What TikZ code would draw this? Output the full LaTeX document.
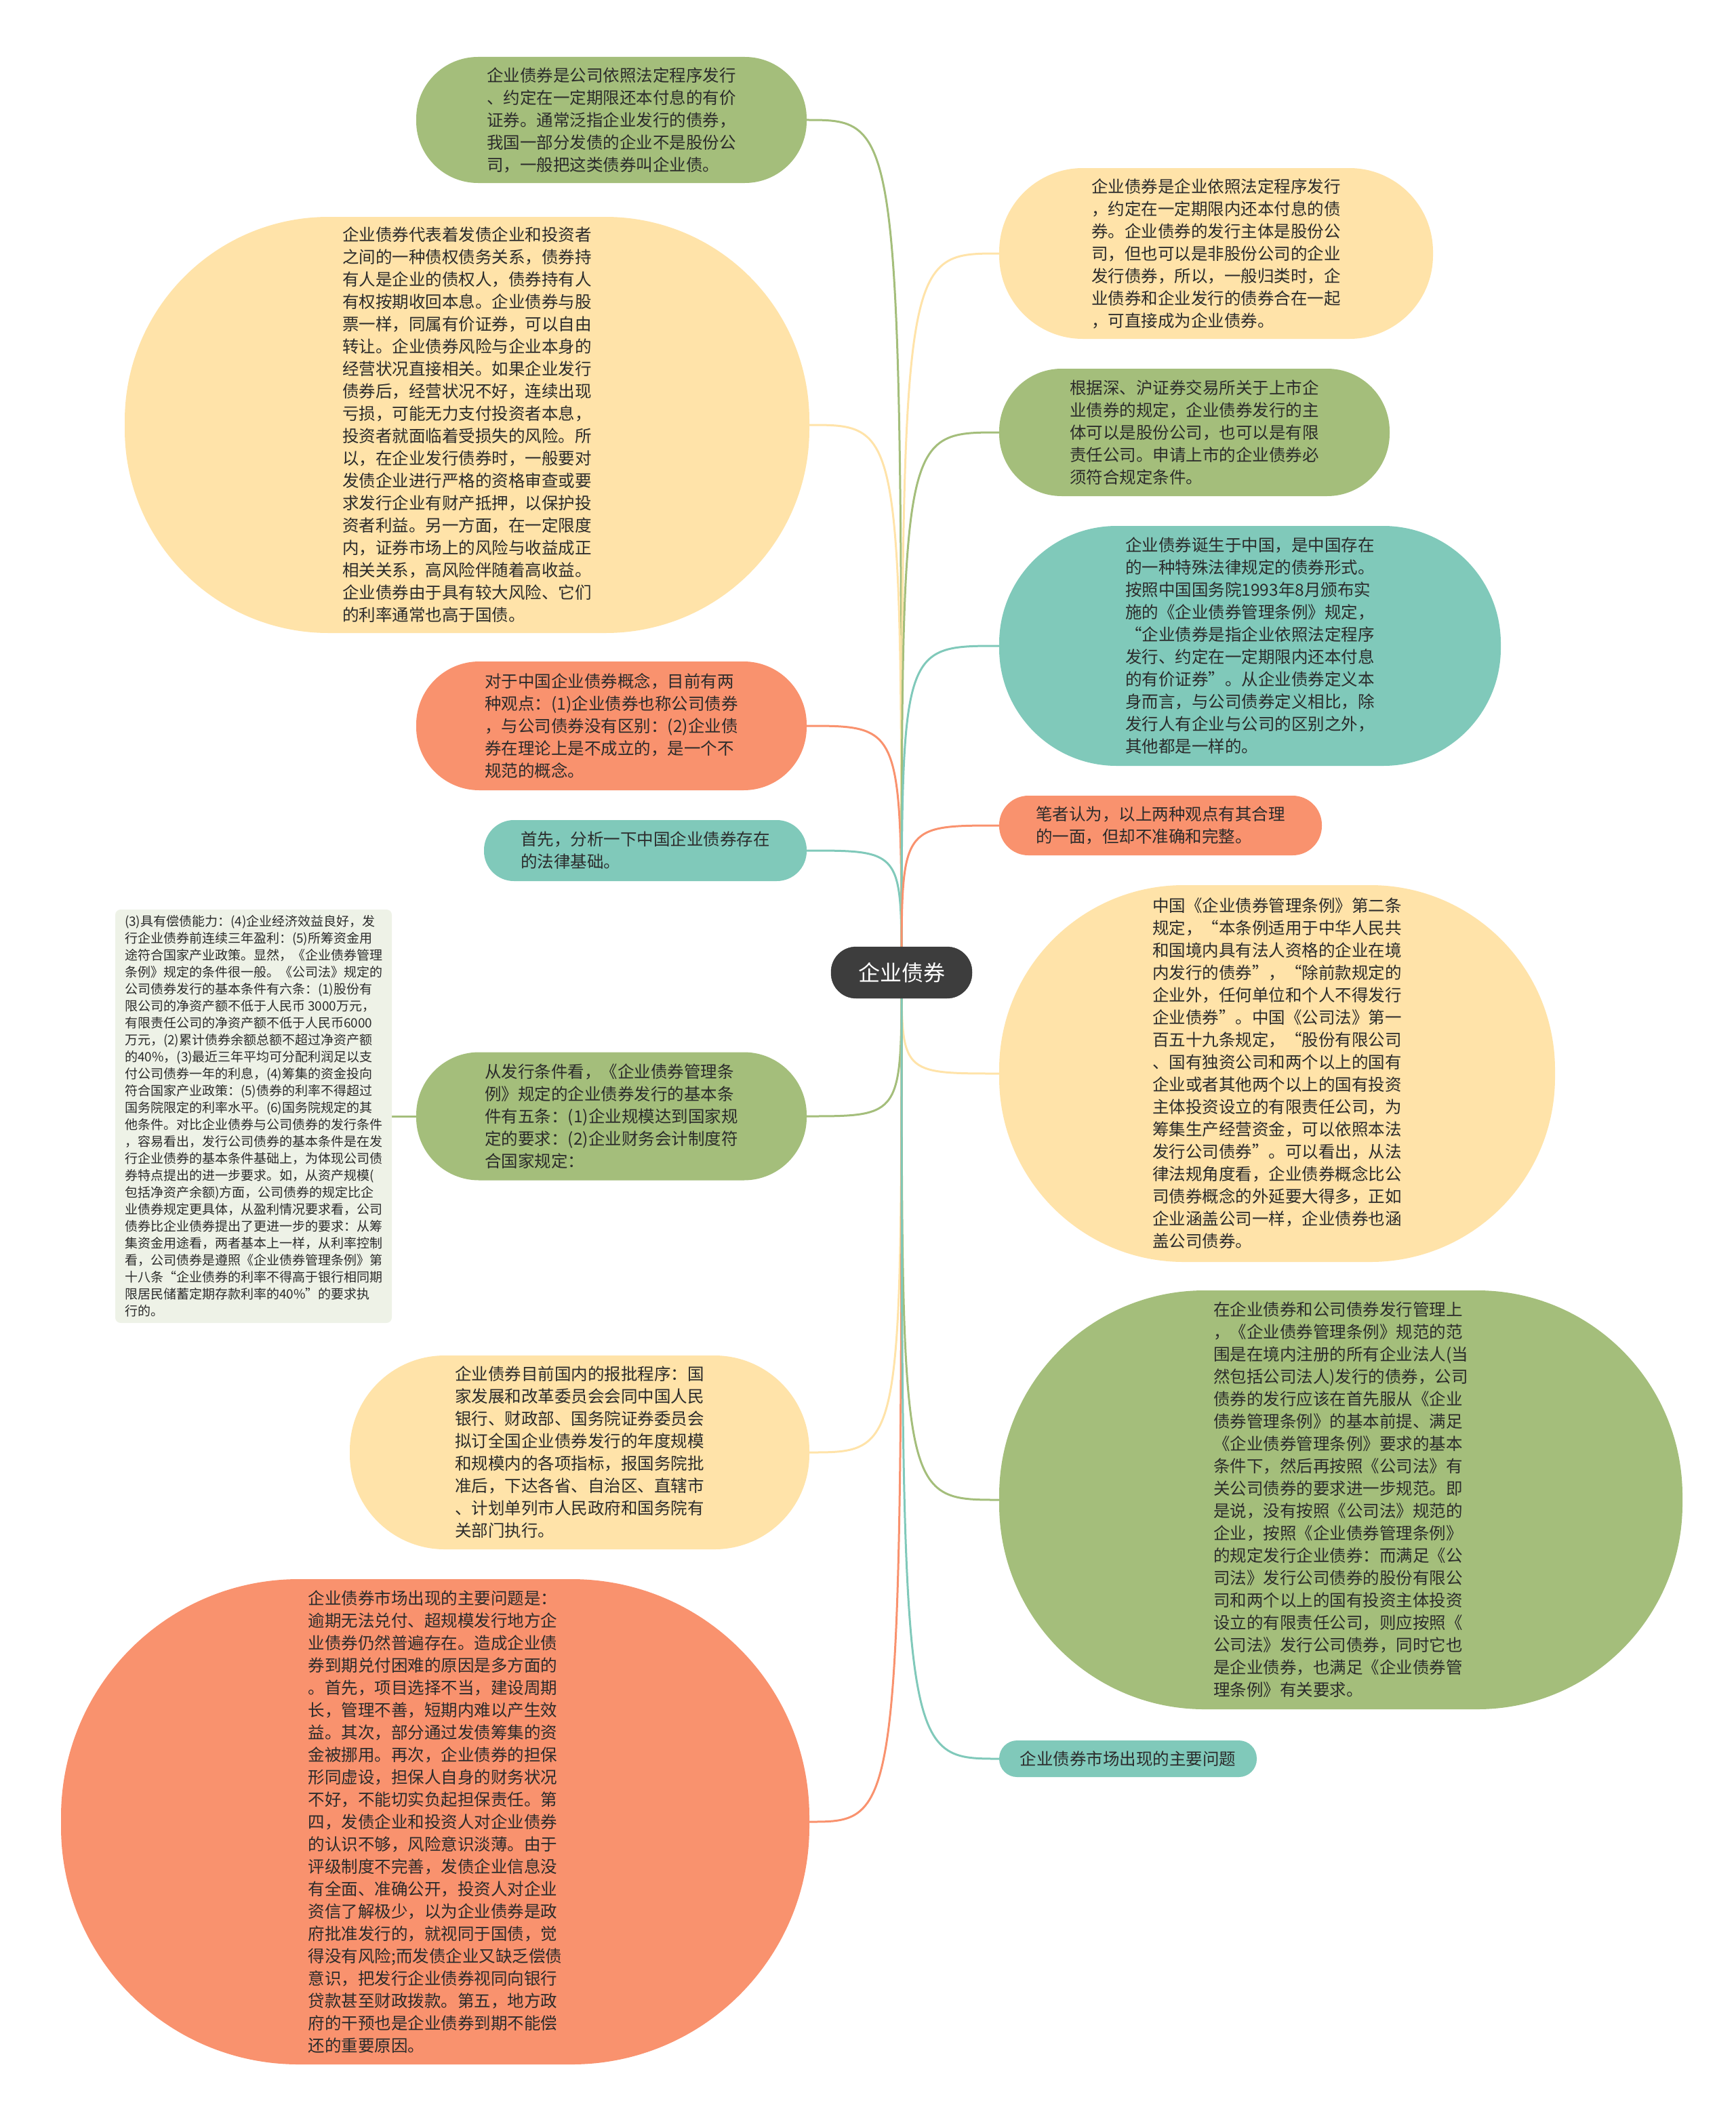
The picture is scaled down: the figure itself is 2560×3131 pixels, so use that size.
\documentclass[tikz,border=0pt]{standalone}
\usepackage{fontspec}
\setmainfont{Noto Sans CJK SC}
\usetikzlibrary{positioning,backgrounds}
\definecolor{bgreen}{HTML}{A4BE7B}
\definecolor{byellow}{HTML}{FFE3A9}
\definecolor{borange}{HTML}{F9926E}
\definecolor{bteal}{HTML}{80C9BA}
\definecolor{bdark}{HTML}{3D3D3D}
\definecolor{bnote}{HTML}{EEF2E7}
\definecolor{btext}{HTML}{2B2B2B}
\tikzset{
  pill/.style 2 args={minimum width=#1pt, minimum height=#2pt, rounded corners=#2*0.49pt,
    inner sep=0pt, font=\fontsize{24.5}{33}\selectfont, text=btext, align=left},
  gpill/.style={fill=bgreen},
  ypill/.style={fill=byellow},
  opill/.style={fill=borange},
  tpill/.style={fill=bteal},
  lnk/.style={line width=3pt},
}

\begin{document}
\begin{tikzpicture}[x=1pt,y=-1pt]
\useasboundingbox (0,0) rectangle (2560,3131);

% Root
\node[fill=bdark, draw=black!80, text=white, font=\fontsize{32}{36}\selectfont,
  minimum width=208pt, minimum height=76pt, rounded corners=37pt] (root) at (1330,1435) {企业债券};

% Left branch
\node[pill={576}{186}, gpill] (n1) at (902,177) {企业债券是公司依照法定程序发行\\、约定在一定期限还本付息的有价\\证券。通常泛指企业发行的债券，\\我国一部分发债的企业不是股份公\\司，一般把这类债券叫企业债。};
\node[pill={1010}{614}, ypill] (n2) at (689,627) {企业债券代表着发债企业和投资者\\之间的一种债权债务关系，债券持\\有人是企业的债权人，债券持有人\\有权按期收回本息。企业债券与股\\票一样，同属有价证券，可以自由\\转让。企业债券风险与企业本身的\\经营状况直接相关。如果企业发行\\债券后，经营状况不好，连续出现\\亏损，可能无力支付投资者本息，\\投资者就面临着受损失的风险。所\\以，在企业发行债券时，一般要对\\发债企业进行严格的资格审查或要\\求发行企业有财产抵押，以保护投\\资者利益。另一方面，在一定限度\\内，证券市场上的风险与收益成正\\相关关系，高风险伴随着高收益。\\企业债券由于具有较大风险、它们\\的利率通常也高于国债。};
\node[pill={576}{190}, opill] (n3) at (902,1071) {对于中国企业债券概念，目前有两\\种观点：(1)企业债券也称公司债券\\，与公司债券没有区别：(2)企业债\\券在理论上是不成立的，是一个不\\规范的概念。};
\node[pill={476}{90}, tpill] (n4) at (952,1255) {首先，分析一下中国企业债券存在\\的法律基础。};
\node[pill={576}{189}, gpill] (n6) at (902,1647) {从发行条件看，《企业债券管理条\\例》规定的企业债券发行的基本条\\件有五条：(1)企业规模达到国家规\\定的要求：(2)企业财务会计制度符\\合国家规定：};
\node[fill=bnote, rounded corners=8pt, minimum width=408pt, minimum height=610pt, inner sep=0pt,
  font=\fontsize{19}{25}\selectfont, text=btext, align=left] (n5) at (374,1647) {(3)具有偿债能力：(4)企业经济效益良好，发\\行企业债券前连续三年盈利：(5)所筹资金用\\途符合国家产业政策。显然，《企业债券管理\\条例》规定的条件很一般。《公司法》规定的\\公司债券发行的基本条件有六条：(1)股份有\\限公司的净资产额不低于人民币 3000万元，\\有限责任公司的净资产额不低于人民币6000\\万元，(2)累计债券余额总额不超过净资产额\\的40\%，(3)最近三年平均可分配利润足以支\\付公司债券一年的利息，(4)筹集的资金投向\\符合国家产业政策：(5)债券的利率不得超过\\国务院限定的利率水平。(6)国务院规定的其\\他条件。对比企业债券与公司债券的发行条件\\，容易看出，发行公司债券的基本条件是在发\\行企业债券的基本条件基础上，为体现公司债\\券特点提出的进一步要求。如，从资产规模(\\包括净资产余额)方面，公司债券的规定比企\\业债券规定更具体，从盈利情况要求看，公司\\债券比企业债券提出了更进一步的要求：从筹\\集资金用途看，两者基本上一样，从利率控制\\看，公司债券是遵照《企业债券管理条例》第\\十八条“企业债券的利率不得高于银行相同期\\限居民储蓄定期存款利率的40\%”的要求执\\行的。};
\node[pill={678}{286}, ypill] (n7) at (855,2143) {企业债券目前国内的报批程序：国\\家发展和改革委员会会同中国人民\\银行、财政部、国务院证券委员会\\拟订全国企业债券发行的年度规模\\和规模内的各项指标，报国务院批\\准后，下达各省、自治区、直辖市\\、计划单列市人民政府和国务院有\\关部门执行。};
\node[pill={1104}{716}, opill] (n8) at (642,2688) {企业债券市场出现的主要问题是：\\逾期无法兑付、超规模发行地方企\\业债券仍然普遍存在。造成企业债\\券到期兑付困难的原因是多方面的\\。首先，项目选择不当，建设周期\\长，管理不善，短期内难以产生效\\益。其次，部分通过发债筹集的资\\金被挪用。再次，企业债券的担保\\形同虚设，担保人自身的财务状况\\不好，不能切实负起担保责任。第\\四，发债企业和投资人对企业债券\\的认识不够，风险意识淡薄。由于\\评级制度不完善，发债企业信息没\\有全面、准确公开，投资人对企业\\资信了解极少，以为企业债券是政\\府批准发行的，就视同于国债，觉\\得没有风险;而发债企业又缺乏偿债\\意识，把发行企业债券视同向银行\\贷款甚至财政拨款。第五，地方政\\府的干预也是企业债券到期不能偿\\还的重要原因。};

% Right branch
\node[pill={640}{252}, ypill] (n9) at (1794,374) {企业债券是企业依照法定程序发行\\，约定在一定期限内还本付息的债\\券。企业债券的发行主体是股份公\\司，但也可以是非股份公司的企业\\发行债券，所以，一般归类时，企\\业债券和企业发行的债券合在一起\\，可直接成为企业债券。};
\node[pill={576}{188}, gpill] (n10) at (1762,638) {根据深、沪证券交易所关于上市企\\业债券的规定，企业债券发行的主\\体可以是股份公司，也可以是有限\\责任公司。申请上市的企业债券必\\须符合规定条件。};
\node[pill={740}{354}, tpill] (n11) at (1844,953) {企业债券诞生于中国，是中国存在\\的一种特殊法律规定的债券形式。\\按照中国国务院1993年8月颁布实\\施的《企业债券管理条例》规定，\\“企业债券是指企业依照法定程序\\发行、约定在一定期限内还本付息\\的有价证券”。从企业债券定义本\\身而言，与公司债券定义相比，除\\发行人有企业与公司的区别之外，\\其他都是一样的。};
\node[pill={476}{88}, opill] (n12) at (1712,1218) {笔者认为，以上两种观点有其合理\\的一面，但却不准确和完整。};
\node[pill={820}{556}, ypill] (n13) at (1884,1584) {中国《企业债券管理条例》第二条\\规定，“本条例适用于中华人民共\\和国境内具有法人资格的企业在境\\内发行的债券”，“除前款规定的\\企业外，任何单位和个人不得发行\\企业债券”。中国《公司法》第一\\百五十九条规定，“股份有限公司\\、国有独资公司和两个以上的国有\\企业或者其他两个以上的国有投资\\主体投资设立的有限责任公司，为\\筹集生产经营资金，可以依照本法\\发行公司债券”。可以看出，从法\\律法规角度看，企业债券概念比公\\司债券概念的外延要大得多，正如\\企业涵盖公司一样，企业债券也涵\\盖公司债券。};
\node[pill={1008}{618}, gpill] (n14) at (1978,2213) {在企业债券和公司债券发行管理上\\，《企业债券管理条例》规范的范\\围是在境内注册的所有企业法人(当\\然包括公司法人)发行的债券，公司\\债券的发行应该在首先服从《企业\\债券管理条例》的基本前提、满足\\《企业债券管理条例》要求的基本\\条件下，然后再按照《公司法》有\\关公司债券的要求进一步规范。即\\是说，没有按照《公司法》规范的\\企业，按照《企业债券管理条例》\\的规定发行企业债券：而满足《公\\司法》发行公司债券的股份有限公\\司和两个以上的国有投资主体投资\\设立的有限责任公司，则应按照《\\公司法》发行公司债券，同时它也\\是企业债券，也满足《企业债券管\\理条例》有关要求。};
\node[pill={380}{54}, tpill] (n15) at (1664,2595) {企业债券市场出现的主要问题};

% Connectors
\begin{scope}[on background layer]
\foreach \n/\c in {n1/bgreen, n2/byellow, n3/borange, n4/bteal, n6/bgreen, n7/byellow, n8/borange}
  \draw[lnk, draw=\c] (root.center) .. controls (root.center |- \n.east) .. (\n.east);
\foreach \n/\c in {n9/byellow, n10/bgreen, n11/bteal, n12/borange, n13/byellow, n14/bgreen, n15/bteal}
  \draw[lnk, draw=\c] (root.center) .. controls (root.center |- \n.west) .. (\n.west);
\draw[lnk, draw=bgreen] (n6.west) -- (n6.west -| n5.east);
\end{scope}
\end{tikzpicture}
\end{document}
